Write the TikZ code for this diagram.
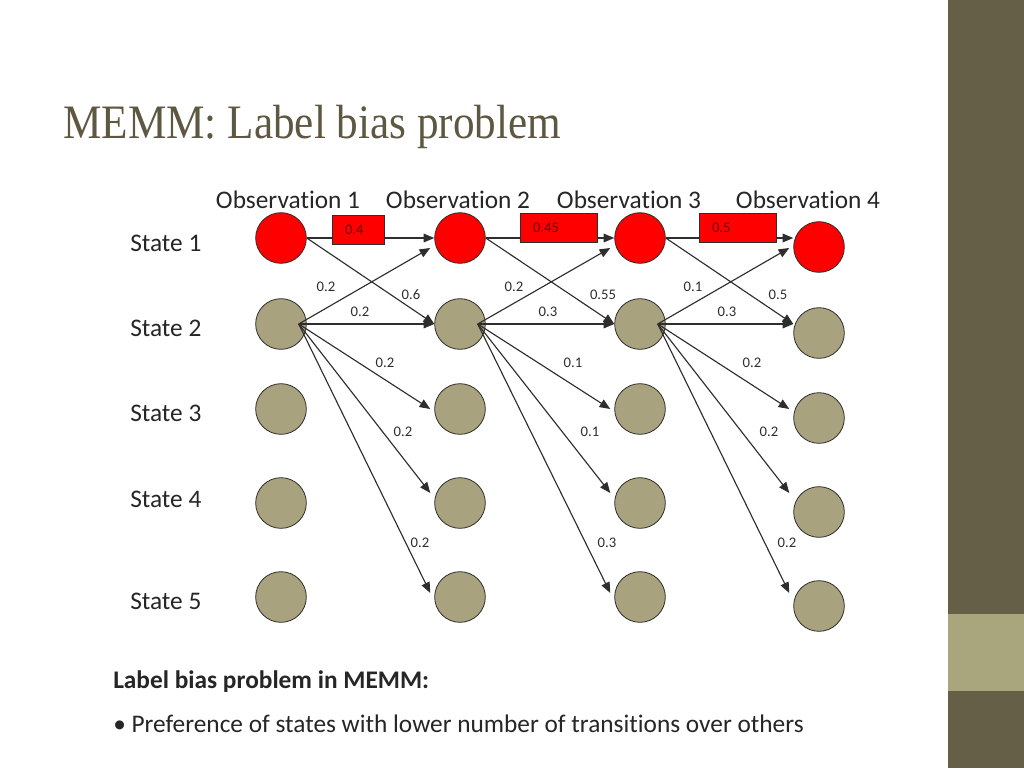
\documentclass[tikz,border=0pt]{standalone}
\usepackage{fontspec}
\setmainfont{Carlito}[Ligatures=NoCommon]
\newfontfamily\titlefont{Liberation Serif}
\usetikzlibrary{arrows.meta,calc}
\definecolor{memmred}{HTML}{FF0000}
\definecolor{memmtan}{HTML}{A9A27E}
\definecolor{memmdark}{HTML}{665F48}
\definecolor{memmband}{HTML}{A9A57D}
\definecolor{memmtitle}{HTML}{5E5843}
\definecolor{memmline}{HTML}{2E2E2E}
\definecolor{memmtext}{HTML}{262626}
\definecolor{memmboxtxt}{HTML}{6A0000}
\pgfdeclareradialshading{vign}{\pgfpointorigin}{color(0bp)=(white); color(60bp)=(white); color(100bp)=(black!15)}

\begin{document}
\begin{tikzpicture}[x=0.75pt, y=-0.75pt,
  st/.style={circle, draw=memmline, line width=0.6pt, minimum size=38pt, inner sep=0pt},
  tr/.style={draw=memmline, line width=0.85pt, -{Triangle[length=8pt,width=6.5pt]}},
  prob/.style={font=\fontsize{11}{13}\selectfont, text=memmline, inner sep=0pt},
  rbox/.style={draw=memmline, line width=0.5pt, fill=memmred, minimum height=21.5pt, inner xsep=9.75pt, align=left, font=\fontsize{11}{13}\selectfont, text=memmboxtxt},
  lab/.style={font=\fontsize{19}{23}\selectfont, text=memmtext, inner sep=0pt}]
  \useasboundingbox (0,0) rectangle (1024,768);
  % background
  \begin{scope}
    \clip (0,0) rectangle (1024,768);
    \shade[shading=vign] (-212,-159) rectangle (1236,927);
  \end{scope}
  \fill[memmdark] (948,0) rectangle (1024,768);
  \fill[memmband] (948,614) rectangle (1024,691);
  % title
  \node[anchor=base west, inner sep=0pt, text=memmtitle] (title) at (63,138)
    {\scalebox{0.9}[1]{\titlefont\fontsize{36}{40}\selectfont MEMM: Label bias problem}};
  % observations and states
  \foreach \i/\x in {1/288, 2/458, 3/629, 4/808}
    \node[lab, anchor=base] (obs\i) at (\x,208) {Observation \i};
  \foreach \i/\y in {1/251, 2/336, 3/421, 4/507, 5/609}
    \node[lab, anchor=base west] (state\i) at (130,\y) {State \i};
  % circles
  \foreach \c/\x/\dy in {a/281/0, b/460/0, c/640/0, d/819/9}
    \foreach \r/\y/\f in {1/238/memmred, 2/324/memmtan, 3/409/memmtan, 4/503/memmtan, 5/597/memmtan}
      \node[st, fill=\f] (\c\r) at (\x,\y+\dy) {};
  % transitions
  \foreach \s/\t/\dy in {a/b/0, b/c/0, c/d/9} {
    \draw[tr] (\s1.east) -- (\s1.east -| \t1.west);
    \draw[tr] (\s1.east) -- ($(\t2.west)+(0,-\dy)$);
    \draw[tr] ([xshift=-6pt]\s2.east) -- ($(\t1.west)+(-4,10-\dy)$);
    \draw[tr] ([xshift=-6pt]\s2.east) -- (\s2.east -| \t2.west);
    \draw[tr] ([xshift=-6pt]\s2.east) -- ($(\t3.west)+(-4,-\dy)$);
    \draw[tr] ([xshift=-6pt]\s2.east) -- ($(\t4.west)+(-4,-10-\dy)$);
    \draw[tr] ([xshift=-6pt]\s2.east) -- ($(\t5.west)+(-4,-4-\dy)$);
  }
  % state 1 probabilities
  \node[rbox, text width=19.5pt] (p1) at (358,230) {0.4};
  \node[rbox, text width=38.25pt] (p2) at (558.5,227.5) {0.45};
  \node[rbox, text width=38.25pt] (p3) at (737.5,227.5) {0.5};
  % other probabilities
  \foreach \x/\y/\p [count=\i] in {326/287/0.2, 411/295/0.6, 360/312/0.2, 385/363/0.2, 403/432/0.2, 420/543/0.2,
      514/287/0.2, 603/295/0.55, 548/312/0.3, 573/363/0.1, 590/432/0.1, 607/543/0.3,
      693/287/0.1, 778/295/0.5, 727/312/0.3, 752/363/0.2, 769/432/0.2, 787/543/0.2}
    \node[prob] (w\i) at (\x,\y) {\p};
  % note
  \node[lab, anchor=base west] (note) at (113,688) {\bfseries Label bias problem in MEMM:};
  \node[lab, anchor=base west] (point) at (113,732) {\textbullet\ Preference of states with lower number of transitions over others};
\end{tikzpicture}
\end{document}
